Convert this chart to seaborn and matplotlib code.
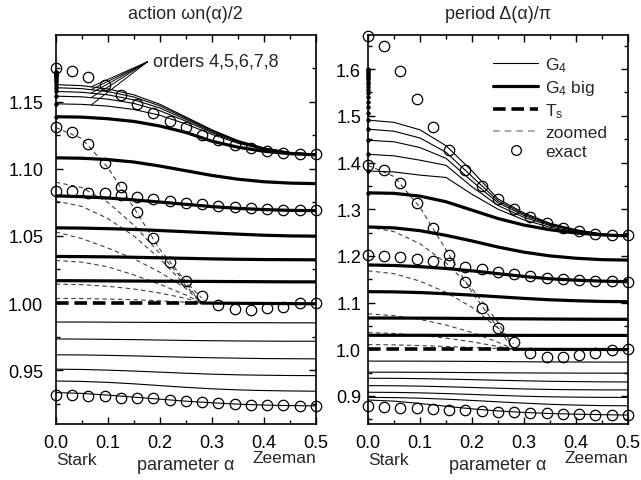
import numpy as np
import seaborn as sns
import matplotlib.pyplot as plt
from matplotlib.lines import Line2D
from matplotlib.ticker import MultipleLocator, AutoMinorLocator
import matplotlib.transforms as mtrans

# ---------------- data ----------------
alpha_curve = [0.0, 0.05, 0.1, 0.15, 0.2, 0.25, 0.3, 0.35, 0.4, 0.45, 0.5]
alpha_exact = [0.0, 0.03125, 0.0625, 0.09375, 0.125, 0.15625, 0.1875, 0.21875, 0.25,
               0.28125, 0.3125, 0.34375, 0.375, 0.40625, 0.4375, 0.46875, 0.5]
alpha_zoom = [0.0, 0.05, 0.1, 0.15, 0.2, 0.25, 0.28]
alpha_tail = [0.28, 0.5]

# action panel
act_orders = [  # G4, orders 4..8
    [1.1483, 1.1479, 1.1466, 1.1441, 1.1398, 1.1333, 1.1256, 1.1190, 1.1143, 1.1116, 1.1105],
    [1.1540, 1.1535, 1.1518, 1.1486, 1.1432, 1.1354, 1.1268, 1.1196, 1.1147, 1.1118, 1.1106],
    [1.1575, 1.1569, 1.1550, 1.1513, 1.1452, 1.1367, 1.1277, 1.1202, 1.1150, 1.1120, 1.1107],
    [1.1603, 1.1596, 1.1574, 1.1534, 1.1468, 1.1377, 1.1284, 1.1206, 1.1153, 1.1121, 1.1108],
    [1.1626, 1.1618, 1.1594, 1.1550, 1.1480, 1.1385, 1.1290, 1.1210, 1.1155, 1.1122, 1.1108],
]
act_big = [
    [1.1387, 1.1384, 1.1372, 1.1352, 1.1318, 1.1270, 1.1205, 1.1160, 1.1130, 1.1112, 1.1103],
    [1.1081, 1.1078, 1.1068, 1.1050, 1.1020, 1.0985, 1.0950, 1.0922, 1.0903, 1.0893, 1.0889],
    [1.0798, 1.0792, 1.0782, 1.0768, 1.0752, 1.0735, 1.0718, 1.0705, 1.0696, 1.0690, 1.0688],
    [1.0560, 1.0558, 1.0554, 1.0548, 1.0540, 1.0531, 1.0522, 1.0513, 1.0505, 1.0500, 1.0498],
    [1.0347, 1.0346, 1.0344, 1.0341, 1.0337, 1.0333, 1.0329, 1.0326, 1.0324, 1.0323, 1.0322],
    [1.0167, 1.0166, 1.0165, 1.0164, 1.0163, 1.0162, 1.0161, 1.0160, 1.0159, 1.0158, 1.0158],
]
act_thin_low = [
    [0.9859, 0.9859, 0.9858, 0.9857, 0.9856, 0.9855, 0.9855, 0.9854, 0.9854, 0.9853, 0.9853],
    [0.9733, 0.9732, 0.9730, 0.9728, 0.9725, 0.9722, 0.9720, 0.9718, 0.9717, 0.9716, 0.9716],
    [0.9615, 0.9614, 0.9611, 0.9607, 0.9602, 0.9597, 0.9593, 0.9590, 0.9587, 0.9586, 0.9585],
    [0.9508, 0.9506, 0.9501, 0.9494, 0.9486, 0.9478, 0.9471, 0.9466, 0.9463, 0.9461, 0.9460],
    [0.9420, 0.9417, 0.9410, 0.9399, 0.9386, 0.9373, 0.9362, 0.9354, 0.9349, 0.9346, 0.9344],
    [0.9334, 0.9328, 0.9315, 0.9300, 0.9285, 0.9270, 0.9258, 0.9248, 0.9241, 0.9237, 0.9235],
]
act_ts = [1.0, 1.0, 1.0, 1.0, 1.0, 1.0, 1.0]
act_tail = [1.0, 0.9995]
act_zoomed = [
    [1.1307, 1.1225, 1.1010, 1.0710, 1.0400, 1.0160, 1.0040],
    [1.0900, 1.0860, 1.0750, 1.0580, 1.0370, 1.0150, 1.0000],
    [1.0760, 1.0720, 1.0630, 1.0500, 1.0330, 1.0130, 1.0000],
    [1.0530, 1.0480, 1.0410, 1.0330, 1.0230, 1.0110, 1.0000],
    [1.0317, 1.0305, 1.0270, 1.0210, 1.0140, 1.0060, 1.0000],
    [1.0141, 1.0137, 1.0125, 1.0105, 1.0075, 1.0035, 1.0000],
    [1.0035, 1.0034, 1.0030, 1.0025, 1.0017, 1.0007, 1.0000],
]
act_exact = [
    [1.1746, 1.1726, 1.1680, 1.1620, 1.1550, 1.1483, 1.1415, 1.1357, 1.1307, 1.1250,
     1.1214, 1.1174, 1.1152, 1.1132, 1.1119, 1.1109, 1.1107],
    [1.1307, 1.1274, 1.1186, 1.1041, 1.0865, 1.0675, 1.0485, 1.0305, 1.0163, 1.0055,
     0.9986, 0.9953, 0.9946, 0.9961, 0.9974, 0.9998, 1.0004],
    [1.0831, 1.0831, 1.0823, 1.0818, 1.0806, 1.0793, 1.0776, 1.0763, 1.0748, 1.0735,
     1.0723, 1.0713, 1.0705, 1.0698, 1.0693, 1.0693, 1.0693],
    [0.9314, 0.9314, 0.9310, 0.9307, 0.9297, 0.9295, 0.9290, 0.9282, 0.9272, 0.9265,
     0.9257, 0.9252, 0.9244, 0.9239, 0.9239, 0.9235, 0.9235],
]
act_dots = [1.1387, 1.1483, 1.1540, 1.1575, 1.1603, 1.1626, 1.1644, 1.1658, 1.1670,
            1.1680, 1.1689, 1.1696, 1.1702, 1.1707, 1.1711, 1.1715, 1.1718, 1.1721]

# period panel
per_orders = [
    [1.3818, 1.3798, 1.3730, 1.3680, 1.3320, 1.3000, 1.2770, 1.2615, 1.2520, 1.2455, 1.2422],
    [1.4176, 1.4143, 1.4050, 1.3940, 1.3480, 1.3080, 1.2825, 1.2650, 1.2537, 1.2461, 1.2426],
    [1.4477, 1.4444, 1.4320, 1.4090, 1.3600, 1.3140, 1.2865, 1.2670, 1.2546, 1.2465, 1.2428],
    [1.4714, 1.4670, 1.4525, 1.4220, 1.3700, 1.3180, 1.2895, 1.2685, 1.2553, 1.2468, 1.2430],
    [1.4908, 1.4860, 1.4700, 1.4360, 1.3820, 1.3220, 1.2920, 1.2700, 1.2560, 1.2470, 1.2430],
]
per_big = [
    [1.3350, 1.3340, 1.3280, 1.3160, 1.2980, 1.2800, 1.2660, 1.2560, 1.2490, 1.2450, 1.2430],
    [1.2620, 1.2600, 1.2540, 1.2440, 1.2320, 1.2190, 1.2080, 1.2000, 1.1950, 1.1920, 1.1910],
    [1.1806, 1.1795, 1.1770, 1.1730, 1.1680, 1.1620, 1.1560, 1.1510, 1.1480, 1.1460, 1.1447],
    [1.1234, 1.1230, 1.1215, 1.1190, 1.1160, 1.1125, 1.1090, 1.1060, 1.1040, 1.1025, 1.1019],
    [1.0670, 1.0669, 1.0667, 1.0664, 1.0660, 1.0656, 1.0652, 1.0648, 1.0645, 1.0643, 1.0642],
    [1.0300, 1.0300, 1.0300, 1.0299, 1.0299, 1.0298, 1.0298, 1.0297, 1.0297, 1.0297, 1.0297],
]
per_thin_low = [
    [0.9747, 0.9747, 0.9746, 0.9744, 0.9741, 0.9737, 0.9733, 0.9730, 0.9728, 0.9726, 0.9725],
    [0.9510, 0.9510, 0.9508, 0.9505, 0.9501, 0.9497, 0.9494, 0.9492, 0.9490, 0.9489, 0.9489],
    [0.9380, 0.9378, 0.9372, 0.9362, 0.9350, 0.9337, 0.9325, 0.9315, 0.9308, 0.9303, 0.9300],
    [0.9222, 0.9219, 0.9211, 0.9198, 0.9182, 0.9166, 0.9151, 0.9140, 0.9134, 0.9131, 0.9130],
    [0.9080, 0.9077, 0.9067, 0.9052, 0.9033, 0.9013, 0.8995, 0.8983, 0.8975, 0.8971, 0.8970],
    [0.8970, 0.8966, 0.8953, 0.8932, 0.8905, 0.8875, 0.8847, 0.8822, 0.8805, 0.8794, 0.8790],
    [0.8914, 0.8890, 0.8840, 0.8780, 0.8725, 0.8680, 0.8648, 0.8625, 0.8610, 0.8600, 0.8591],
]
per_ts = [1.0, 1.0, 1.0, 1.0, 1.0, 1.0, 1.0]
per_tail = [1.0, 0.9995]
per_zoomed = [
    [1.3940, 1.3700, 1.3040, 1.2130, 1.1220, 1.0460, 1.0120],
    [1.2620, 1.2520, 1.2260, 1.1850, 1.1300, 1.0580, 1.0000],
    [1.1680, 1.1620, 1.1460, 1.1220, 1.0900, 1.0450, 1.0000],
    [1.0760, 1.0720, 1.0640, 1.0520, 1.0360, 1.0150, 1.0000],
    [1.0360, 1.0340, 1.0300, 1.0240, 1.0160, 1.0060, 1.0000],
    [1.0100, 1.0095, 1.0080, 1.0060, 1.0040, 1.0015, 1.0000],
]
per_exact = [
    [1.6704, 1.6489, 1.5957, 1.5360, 1.4766, 1.4262, 1.3831, 1.3495, 1.3222, 1.3013,
     1.2834, 1.2705, 1.2597, 1.2526, 1.2468, 1.2453, 1.2440],
    [1.3939, 1.3840, 1.3566, 1.3135, 1.2597, 1.2010, 1.1449, 1.0895, 1.0458, 1.0157,
     0.9926, 0.9833, 0.9833, 0.9869, 0.9926, 0.9976, 1.0013],
    [1.2010, 1.1988, 1.1972, 1.1936, 1.1893, 1.1843, 1.1772, 1.1720, 1.1663, 1.1613,
     1.1569, 1.1535, 1.1498, 1.1483, 1.1470, 1.1461, 1.1447],
    [0.8778, 0.8756, 0.8741, 0.8741, 0.8720, 0.8706, 0.8700, 0.8684, 0.8662, 0.8648,
     0.8634, 0.8627, 0.8612, 0.8612, 0.8598, 0.8598, 0.8591],
]
per_dots = [1.3350, 1.3818, 1.4176, 1.4477, 1.4714, 1.4908, 1.5050, 1.5180, 1.5300,
            1.5400, 1.5480, 1.5550, 1.5620, 1.5680, 1.5730, 1.5780, 1.5820, 1.5860,
            1.5890, 1.5920, 1.5950, 1.5980, 1.6000]

# ---------------- style ----------------
sns.set_style("ticks")
plt.rcParams['font.family'] = ['Liberation Sans', 'DejaVu Sans']
plt.rcParams['mathtext.fontset'] = 'custom'
plt.rcParams['mathtext.rm'] = 'Liberation Sans'
plt.rcParams['mathtext.it'] = 'Liberation Sans:italic'

THIN, THICK = 0.8, 2.3
ZOOM_LS = (0, (4, 3))
TS_LS = (0, (3.5, 1.6))


def line(ax, x, y, lw, ls='-', color='k', z=2):
    sns.lineplot(x=x, y=y, ax=ax, color=color, lw=lw, linestyle=ls,
                 estimator=None, sort=False, zorder=z)


def draw_panel(ax, orders, big, thin_low, ts, tail, zoomed, exact, dots):
    for y in zoomed:
        line(ax, alpha_zoom, y, 0.8, ZOOM_LS, color='0.25', z=1)
    for y in orders + thin_low:
        line(ax, alpha_curve, y, THIN)
    for y in big:
        line(ax, alpha_curve, y, THICK)
    line(ax, alpha_zoom, ts, 2.6, TS_LS, z=3)
    line(ax, alpha_tail, tail, THICK)
    for y in exact:
        sns.lineplot(x=alpha_exact, y=y, ax=ax, linestyle='', marker='o', ms=7.5,
                     markerfacecolor='none', markeredgecolor='k', mew=0.9,
                     estimator=None, sort=False, clip_on=False, zorder=5)
    sns.lineplot(x=[0.0] * len(dots), y=dots, ax=ax, linestyle='', marker='o', ms=3.2,
                 color='k', mew=0, estimator=None, sort=False, clip_on=False, zorder=4)


def style_axes(ax, ylim, ymaj, label_pad):
    ax.set_xlim(0, 0.5)
    ax.set_ylim(*ylim)
    ax.xaxis.set_major_locator(MultipleLocator(0.1))
    ax.xaxis.set_minor_locator(AutoMinorLocator(2))
    ax.yaxis.set_major_locator(MultipleLocator(ymaj))
    ax.yaxis.set_minor_locator(AutoMinorLocator(2))
    ax.tick_params(which='both', direction='in', top=True, right=True, width=1.0,
                   labelsize=13, colors='k')
    ax.tick_params(which='major', length=5)
    ax.tick_params(which='minor', length=3)
    ax.tick_params(axis='y', pad=label_pad)
    ax.tick_params(axis='x', pad=7)
    for s in ax.spines.values():
        s.set_linewidth(1.2)
        s.set_color('k')
    ax.set_xlabel('')
    ax.set_ylabel('')
    tr = mtrans.blended_transform_factory(ax.transData, ax.transAxes)
    ax.text(0.0, -0.09, 'Stark', transform=tr, ha='left', va='center', fontsize=12.5)
    ax.text(0.5, -0.087, 'Zeeman', transform=tr, ha='right', va='center', fontsize=12.5)
    ax.text(0.25, -0.105, 'parameter α', transform=tr, ha='center', va='center', fontsize=13)


fig = plt.figure(figsize=(6.41, 4.81), dpi=100)
ax1 = fig.add_axes([0.0869, 0.1164, 0.4061, 0.8087])
ax2 = fig.add_axes([0.5741, 0.1164, 0.4056, 0.8087])

draw_panel(ax1, act_orders, act_big, act_thin_low, act_ts, act_tail,
           act_zoomed, act_exact, act_dots)
draw_panel(ax2, per_orders, per_big, per_thin_low, per_ts, per_tail,
           per_zoomed, per_exact, per_dots)

style_axes(ax1, (0.91, 1.1995), 0.05, 9)
style_axes(ax2, (0.84, 1.673), 0.1, 5)
ax1.yaxis.set_major_formatter(plt.FormatStrFormatter('%.2f'))
ax2.yaxis.set_major_formatter(plt.FormatStrFormatter('%.1f'))

ax1.set_title('action ωn(α)/2', fontsize=13, pad=12)
ax2.set_title('period Δ(α)/π', fontsize=13, pad=12)

# "orders" annotation
ax1.text(0.186, 1.180, 'orders 4,5,6,7,8', ha='left', va='center', fontsize=13)
for y in act_orders:
    yend = np.interp(0.068, alpha_curve, y)
    ax1.annotate('', xy=(0.068, yend), xytext=(0.176, 1.1795),
                 arrowprops=dict(arrowstyle='-', lw=0.7, color='k',
                                 shrinkA=0, shrinkB=0))

handles = [
    Line2D([], [], color='k', lw=THIN),
    Line2D([], [], color='k', lw=THICK),
    Line2D([], [], color='k', lw=2.6, linestyle=TS_LS),
    Line2D([], [], color='0.6', lw=1.2, linestyle=ZOOM_LS),
    Line2D([], [], color='k', linestyle='', marker='o', ms=7,
           markerfacecolor='none', mew=0.9),
]
labels = ['G$_4$', 'G$_4$ big', 'T$_\\mathrm{s}$', 'zoomed', 'exact']
ax2.legend(handles, labels, loc='upper right', bbox_to_anchor=(0.96, 0.975),
           frameon=False, fontsize=12.5, handlelength=2.6, handletextpad=0.4,
           labelspacing=0.25, borderaxespad=0.2)

fig.savefig('out.png', dpi=100)
